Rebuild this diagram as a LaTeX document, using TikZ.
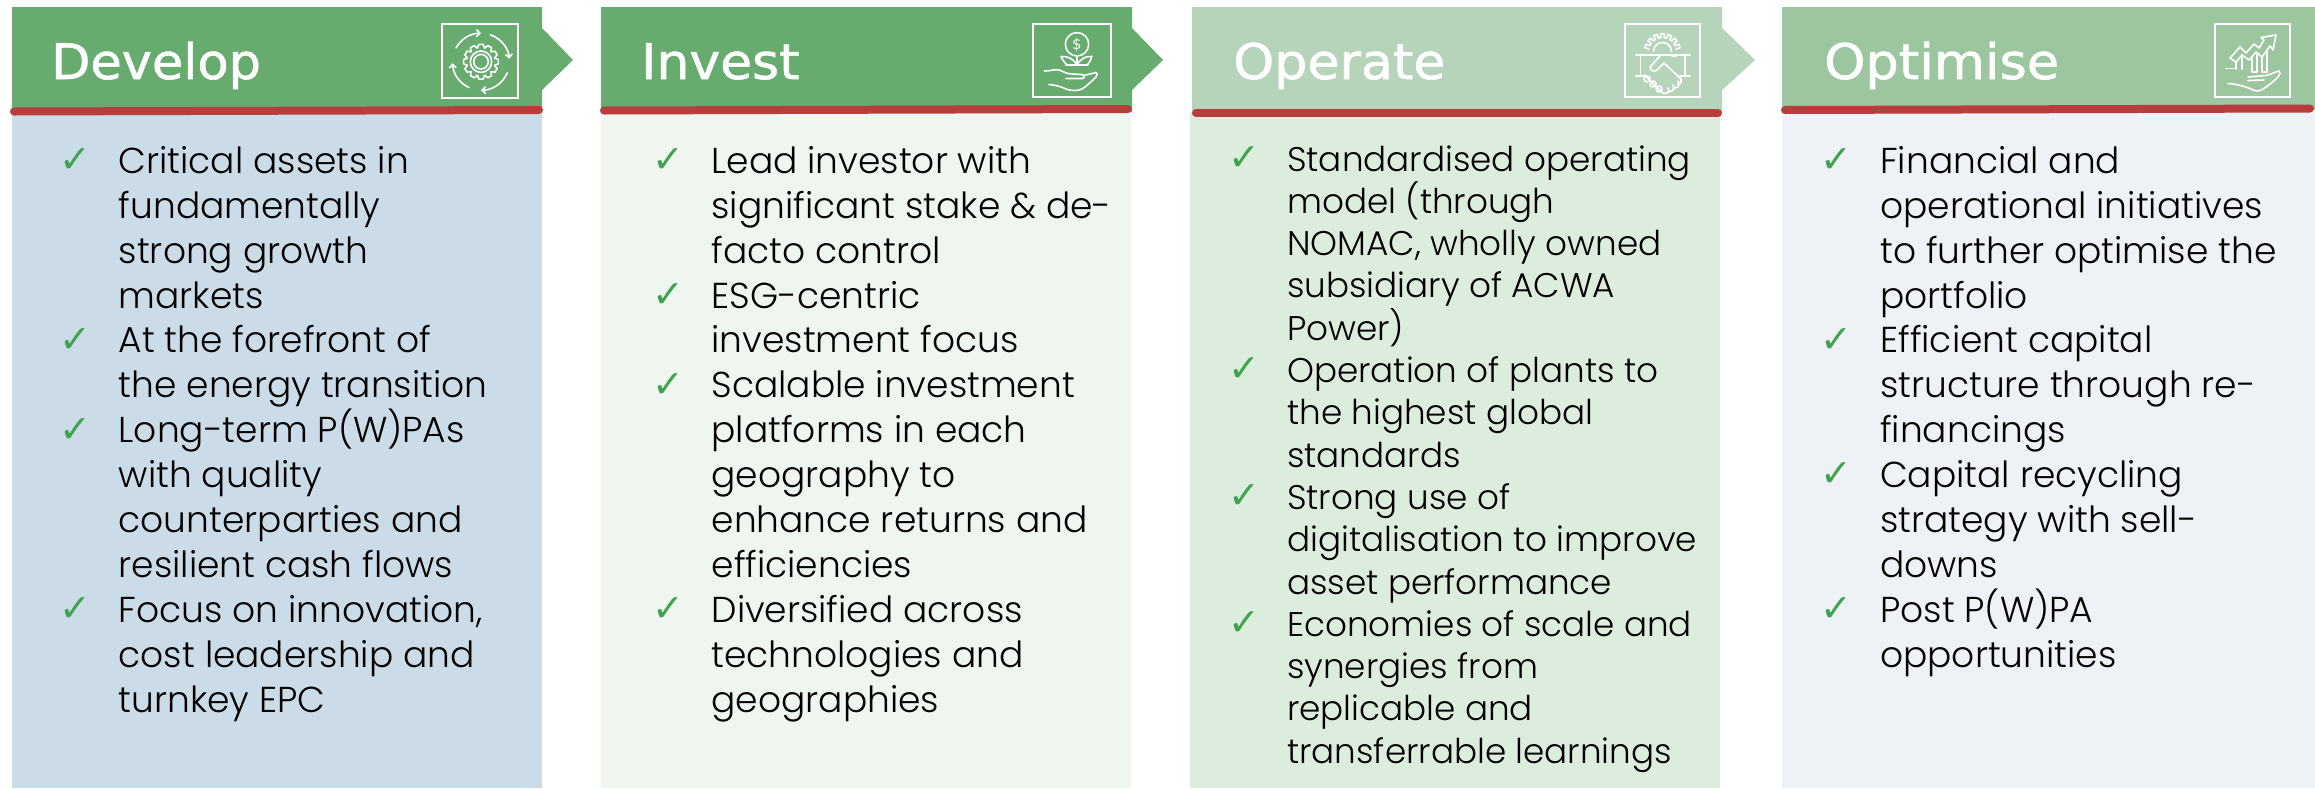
\documentclass[tikz,border=0pt]{standalone}
\usepackage{fontspec}
\usepackage{graphicx}
\usetikzlibrary{arrows.meta}
\setmainfont{Poppins Light}
\newfontfamily\titlefont[FakeBold=1.2]{DejaVu Sans}
\newfontfamily\plainsans{DejaVu Sans}
\newfontfamily\checkfont{DejaVu Sans}
\definecolor{hA}{HTML}{67AB6F}
\definecolor{hC}{HTML}{B6D4B9}
\definecolor{hD}{HTML}{9CC69F}
\definecolor{bA}{HTML}{CBDBE8}
\definecolor{bB}{HTML}{EFF6EF}
\definecolor{bC}{HTML}{DDEDDD}
\definecolor{bD}{HTML}{EEF2F6}
\definecolor{redbar}{HTML}{B83D3D}
\definecolor{tick}{HTML}{3FA34D}
\newcommand{\lns}[2][44.9pt]{\vtop{\baselineskip=#1\lineskiplimit=-100pt\relax #2}}
\newcommand{\Ln}[1]{\hbox{#1}}
\tikzset{
  x=1pt,y=-1pt,
  bodytext/.style={anchor=base west,inner sep=0pt,text=black,font=\fontsize{36}{40}\selectfont},
  bodysmall/.style={bodytext,font=\fontsize{34.2}{40}\selectfont},
  checkmark/.style={anchor=base west,inner sep=0pt,text=tick,font=\checkfont\fontsize{38}{38}\selectfont},
  titletext/.style={anchor=base west,inner sep=0pt,text=white,font=\titlefont\fontsize{49}{55}\selectfont},
  redline/.style={redbar,line width=8pt,line cap=round},
  ico/.style={white,line width=1.6pt,line cap=round,line join=round},
  icobox/.style={white,line width=2pt},
  barb/.style={-{Straight Barb[length=3.5pt,width=7pt]}}
}
\begin{document}
\begin{tikzpicture}
\useasboundingbox (0,0) rectangle (2315,788);
% bodies
\fill[bA] (12,112) rectangle (542,788);
\fill[bB] (601,112) rectangle (1131,788);
\fill[bC] (1190,112) rectangle (1720,788);
\fill[bD] (1782,112) rectangle (2315,788);
% headers
\fill[hA] (12,7) -- (542,7) -- (542,28) -- (573,60) -- (542,90) -- (542,112) -- (12,112) -- cycle;
\fill[hA] (601,7) -- (1132,7) -- (1132,28) -- (1163,60) -- (1132,90) -- (1132,112) -- (601,112) -- cycle;
\fill[hC] (1192,7) -- (1722,7) -- (1722,28) -- (1755,60) -- (1722,90) -- (1722,112) -- (1192,112) -- cycle;
\fill[hD] (1782,7) -- (2315,7) -- (2315,110) -- (1782,110) -- cycle;
% red bars
\draw[redline] (14,111.5) -- (539,110);
\draw[redline] (604,110.5) -- (1128,109);
\draw[redline] (1196,113) -- (1718,113);
\draw[redline] (1785,110) -- (2310,108.5);
% titles
\node[titletext] (t1) at (51,79) {\scalebox{1.04}[1]{Develop}};
\node[titletext] (t2) at (641,79) {\scalebox{1.06}[1]{Invest}};
\node[titletext] (t3) at (1233,79) {\scalebox{1.065}[1]{Operate}};
\node[titletext] (t4) at (1824,79) {\scalebox{1.07}[1]{Optimise}};
% icon 1
\begin{scope}[shift={(435,15)}]
\draw[icobox] (7,9.3) rectangle (83,83);
\begin{scope}[shift={(46,46.7)}]
\draw[ico] (0,0) circle (7.3);
\draw[ico] (0,0) circle (10.7);
\draw[ico] (-7:17.5) \foreach \a in {0,30,...,330}{ -- (\a-7:17.5) -- (\a+7:17.5) -- (\a+15:14)} -- cycle;
\draw[ico,barb] (209:28.5) arc[start angle=209,end angle=270,radius=28.5];
\draw[ico,barb] (289:28.5) arc[start angle=289,end angle=354,radius=28.5];
\draw[ico,barb] (23:28.5) arc[start angle=23,end angle=90,radius=28.5];
\draw[ico,barb] (115:28.5) arc[start angle=115,end angle=177,radius=28.5];
\end{scope}
\end{scope}
% icon 2
\begin{scope}[shift={(1028,15)}]
\draw[icobox] (5,9.3) rectangle (82.5,81.5);
\draw[ico] (49,29.3) circle (11.7);
\node[inner sep=0pt,text=white,font=\plainsans\fontsize{15}{15}\selectfont] (dollar) at (49,29.5) {\$};
\draw[ico] (49,41) -- (49,50);
\draw[ico] (49,50) -- (39,50) .. controls (36,47) and (34,44) .. (33,41.5) .. controls (39,41) and (45,43) .. (49,50);
\draw[ico] (49,50) -- (59,50) .. controls (62,47) and (63,44) .. (64,41.5) .. controls (58,41) and (53,43) .. (49,50);
\draw[ico] (38,50) -- (60,50);
\draw[ico] (16.5,56) .. controls (23,56) and (27,54) .. (31,55) .. controls (35,56) and (38,59) .. (44,59) -- (54,59.5) .. controls (57,60) and (57,63.5) .. (54,63.5) -- (38,63.5);
\draw[ico] (57,60) .. controls (61,59.5) and (66,58) .. (68,57.5) .. controls (70,58) and (69,60) .. (68,62) .. controls (64,66) and (60,70) .. (54,74) .. controls (50,76) and (43,76) .. (38,74) .. controls (32,71) and (26,70) .. (21,69.5);
\end{scope}
% icon 3
\begin{scope}[shift={(1618,15)}]
\draw[icobox] (6.7,9.3) rectangle (82.3,81.7);
\begin{scope}[shift={(44.5,36.5)}]
\draw[ico] (180:9) arc[start angle=180,end angle=360,radius=9];
\draw[ico] (188:14) \foreach \a in {198,222,246,270,294,318,342}{ -- (\a-7:14) -- (\a-6:18) -- (\a+6:18) -- (\a+7:14)} -- (352:14);
\end{scope}
\draw[ico] (18,40) -- (72,40);
\draw[ico] (22.5,40) -- (22.5,61);
\draw[ico] (67,40) -- (67,61);
\draw[ico] (18,61) -- (26,61);
\draw[ico] (62,61) -- (72,61);
\draw[ico] (42,41) -- (32,52) .. controls (33,56) and (36,57) .. (39,55) -- (46,48) -- (63,64);
\draw[ico] (54,41) -- (58,41);
\draw[ico] (27,60) .. controls (32,66) and (38,72) .. (45,78);
\foreach \i/\xa/\ya in {1/29/64,2/35/69,3/41/74}{
  \draw[ico] (\xa,\ya) circle[radius=3];
}
\draw[ico] (45,78) .. controls (49,80) and (53,76) .. (50,73);
\draw[ico] (50,76) .. controls (54,78) and (58,74) .. (55,70);
\draw[ico] (55,73) .. controls (59,74) and (63,70) .. (60,66);
\draw[ico] (60,69) .. controls (63,69) and (64,66) .. (63,64);
\end{scope}
% icon 4
\begin{scope}[shift={(2208,15)}]
\draw[icobox] (6.7,9.3) rectangle (82.3,81.7);
\draw[ico] (22,43) -- (32,32) -- (38,38) -- (46,29) -- (51,33) -- (56,25) -- (53,22.5) -- (68,20) -- (65,35) -- (62,31) -- (54,42) -- (48,37) -- (41,45) -- (34,40) -- (28,47) -- cycle;
\draw[ico] (28,47) -- (28,54);
\draw[ico] (34,40) -- (34,54);
\draw[ico] (44,42) -- (44,57) -- (49,57) -- (49,40);
\draw[ico] (54,42) -- (54,57) -- (59,57) -- (59,36);
\draw[ico] (18,53.5) -- (27,53.5);
\draw[ico] (40,62) -- (58,60.5) .. controls (64,59) and (68,56.5) .. (71,56) .. controls (73,57) and (72,60) .. (70,62) .. controls (66,66) and (60,71) .. (55,74) .. controls (51,77) and (47,76) .. (43,74) .. controls (36,71) and (28,69) .. (20,68.5);
\draw[ico] (40,65.5) -- (56,65);
\end{scope}
% checks
\foreach \nm/\cx/\cy in {a1/59/172,a2/59/352,a3/59/442,a4/59/621,
  b1/652/172,b2/652/307,b3/652/397,b4/652/621,
  c1/1228/170,c2/1228/381,c3/1228/508,c4/1228/635,
  d1/1820/172,d2/1820/352,d3/1820/486,d4/1820/621}{
  \node[checkmark] (chk\nm) at (\cx,\cy) {✓};
}
% column 1
\node[bodytext] (a1) at (118.6,173.3) {\lns{\Ln{Critical assets in}\Ln{fundamentally}\Ln{strong growth}\Ln{markets}}};
\node[bodytext] (a2) at (118.6,352.9) {\lns{\Ln{At the forefront of}\Ln{the energy transition}}};
\node[bodytext] (a3) at (118.6,442.7) {\lns{\Ln{Long-term P(W)PAs}\Ln{with quality}\Ln{counterparties and}\Ln{resilient cash flows}}};
\node[bodytext] (a4) at (118.6,622.3) {\lns{\Ln{Focus on innovation,}\Ln{cost leadership and}\Ln{turnkey EPC}}};
% column 2
\node[bodytext] (b1) at (711.4,173.3) {\lns{\Ln{Lead investor with}\Ln{significant stake \& de-}\Ln{facto control}}};
\node[bodytext] (b2) at (711.4,308) {\lns{\Ln{ESG-centric}\Ln{investment focus}}};
\node[bodytext] (b3) at (711.4,397.8) {\lns{\Ln{Scalable investment}\Ln{platforms in each}\Ln{geography to}\Ln{enhance returns and}\Ln{efficiencies}}};
\node[bodytext] (b4) at (711.4,622.3) {\lns{\Ln{Diversified across}\Ln{technologies and}\Ln{geographies}}};
% column 3
\node[bodysmall] (c1) at (1287,171) {\lns[42.3pt]{\Ln{Standardised operating}\Ln{model (through}\Ln{NOMAC, wholly owned}\Ln{subsidiary of ACWA}\Ln{Power)}}};
\node[bodysmall] (c2) at (1287,382.5) {\lns[42.3pt]{\Ln{Operation of plants to}\Ln{the highest global}\Ln{standards}}};
\node[bodysmall] (c3) at (1287,509.4) {\lns[42.3pt]{\Ln{Strong use of}\Ln{digitalisation to improve}\Ln{asset performance}}};
\node[bodysmall] (c4) at (1287,636.3) {\lns[42.3pt]{\Ln{Economies of scale and}\Ln{synergies from}\Ln{replicable and}\Ln{transferrable learnings}}};
% column 4
\node[bodytext] (d1) at (1880,173.3) {\lns{\Ln{Financial and}\Ln{operational initiatives}\Ln{to further optimise the}\Ln{portfolio}}};
\node[bodytext] (d2) at (1880,352.9) {\lns{\Ln{Efficient capital}\Ln{structure through re-}\Ln{financings}}};
\node[bodytext] (d3) at (1880,487.6) {\lns{\Ln{Capital recycling}\Ln{strategy with sell-}\Ln{downs}}};
\node[bodytext] (d4) at (1880,622.3) {\lns{\Ln{Post P(W)PA}\Ln{opportunities}}};
\end{tikzpicture}
\end{document}
